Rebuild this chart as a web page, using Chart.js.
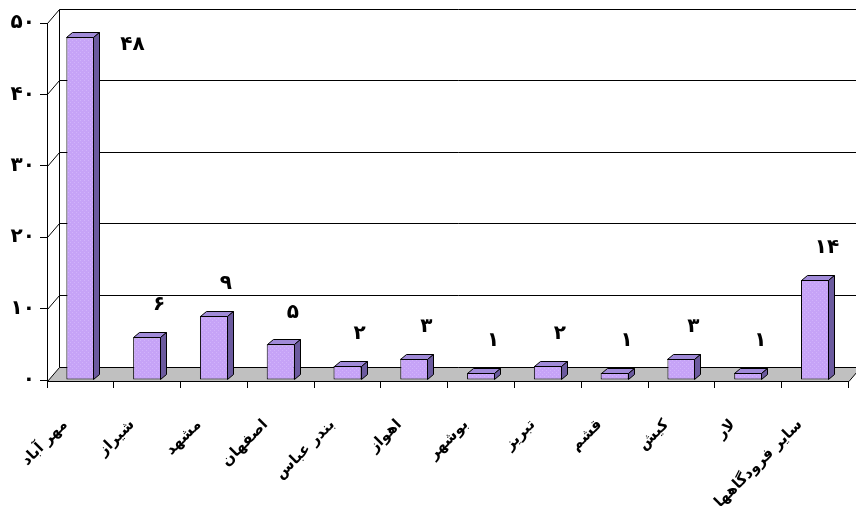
<!DOCTYPE html>
<html>
<head>
<meta charset="utf-8">
<script src="https://cdn.jsdelivr.net/npm/chart.js@4/dist/chart.umd.min.js"></script>
<style>
  html, body { margin: 0; padding: 0; background: #ffffff; }
  #wrap { width: 856px; height: 513px; position: relative; }
</style>
</head>
<body>
<div id="wrap"><canvas id="chart" width="856" height="513"></canvas></div>
<script>
// Airports and the count for each one
const airports = ['مهر آباد', 'شیراز', 'مشهد', 'اصفهان', 'بندر عباس', 'اهواز', 'بوشهر', 'تبریز', 'قشم', 'کیش', 'لار', 'سایر فرودگاهها'];
const counts = [48, 6, 9, 5, 2, 3, 1, 2, 1, 3, 1, 14];
const yTicks = [0, 10, 20, 30, 40, 50];

// Persian digits
const FA_DIGITS = '۰۱۲۳۴۵۶۷۸۹';
const fa = n => String(n).replace(/\d/g, d => FA_DIGITS[d]);

const FONT = '"DejaVu Sans", sans-serif';

// depth of the walls/floor and of each bar
const WALL_DX = 12, WALL_DY = 14;
const BAR_DX = 6, BAR_DY = 5;

// light lavender front face with a faint stipple
function frontPattern() {
  const p = document.createElement('canvas');
  p.width = 4; p.height = 4;
  const c = p.getContext('2d');
  c.fillStyle = '#c6a3f7';
  c.fillRect(0, 0, 4, 4);
  c.fillStyle = '#d1b3fb';
  c.fillRect(0, 0, 1, 1);
  c.fillRect(2, 2, 1, 1);
  return c.createPattern(p, 'repeat');
}

const box3d = {
  id: 'box3d',
  beforeDatasetsDraw(chart) {
    const { ctx, chartArea: { left, right, top, bottom }, scales: { y } } = chart;
    const W = chart.width;
    ctx.save();
    ctx.lineWidth = 1;
    ctx.strokeStyle = '#000';

    // floor
    const fy = bottom + 1.5;
    ctx.beginPath();
    ctx.moveTo(left + 0.5, fy);
    ctx.lineTo(right + 0.5, fy);
    ctx.lineTo(right + 0.5 + WALL_DX, fy - WALL_DY);
    ctx.lineTo(left + 0.5 + WALL_DX, fy - WALL_DY);
    ctx.closePath();
    ctx.fillStyle = '#c0c0c0';
    ctx.fill();
    ctx.stroke();

    // back wall edge
    const bx = Math.round(left + WALL_DX) + 0.5;
    ctx.beginPath();
    ctx.moveTo(bx, Math.round(top - WALL_DY) + 0.5);
    ctx.lineTo(bx, fy - WALL_DY);
    ctx.stroke();

    // gridlines: side wall diagonal then across the back wall
    yTicks.filter(v => v > 0).forEach(v => {
      const yy = Math.round(y.getPixelForValue(v)) + 0.5;
      ctx.beginPath();
      ctx.moveTo(left + 0.5, yy);
      ctx.lineTo(bx, yy - WALL_DY);
      ctx.lineTo(W + 2, yy - WALL_DY);
      ctx.stroke();
    });
    ctx.restore();
  },
  afterDatasetsDraw(chart) {
    const { ctx } = chart;
    const meta = chart.getDatasetMeta(0);
    const data = chart.data.datasets[0].data;
    ctx.save();
    ctx.lineWidth = 1;
    ctx.strokeStyle = '#000';
    meta.data.forEach((bar, i) => {
      const { x, y, width, base } = bar.getProps(['x', 'y', 'width', 'base'], true);
      const l = Math.round(x - width / 2) + 0.5;
      const r = Math.round(x + width / 2) - 0.5;
      const t = Math.round(y) + 0.5;
      const b = Math.round(base) - 0.5;

      // top face
      ctx.beginPath();
      ctx.moveTo(l, t);
      ctx.lineTo(l + BAR_DX, t - BAR_DY);
      ctx.lineTo(r + BAR_DX, t - BAR_DY);
      ctx.lineTo(r, t);
      ctx.closePath();
      ctx.fillStyle = '#a08ad8';
      ctx.fill();
      ctx.stroke();

      // side face
      ctx.beginPath();
      ctx.moveTo(r, t);
      ctx.lineTo(r + BAR_DX, t - BAR_DY);
      ctx.lineTo(r + BAR_DX, b - BAR_DY);
      ctx.lineTo(r, b);
      ctx.closePath();
      ctx.fillStyle = '#6b5a9e';
      ctx.fill();
      ctx.stroke();

      // value label
      ctx.fillStyle = '#000';
      ctx.font = 'bold 20px ' + FONT;
      ctx.textAlign = 'center';
      ctx.textBaseline = 'middle';
      let lx = x + 12, ly = y - 32;
      if (ly < chart.chartArea.top + 10) { lx = x + 52; ly = y + 8; }
      ctx.fillText(fa(data[i]), lx, ly);
    });
    ctx.restore();
  }
};

new Chart(document.getElementById('chart'), {
  type: 'bar',
  data: {
    labels: airports,
    datasets: [{
      data: counts,
      backgroundColor: frontPattern(),
      borderColor: '#000',
      borderWidth: 1,
      borderSkipped: false,
      barPercentage: 0.42,
      categoryPercentage: 1.0
    }]
  },
  options: {
    responsive: false,
    animation: false,
    devicePixelRatio: 1,
    layout: { padding: { top: 23, right: 6, left: 0, bottom: 0 } },
    plugins: { legend: { display: false }, tooltip: { enabled: false } },
    scales: {
      y: {
        min: 0,
        max: 50,
        afterFit(scale) { scale.width = 47; },
        afterBuildTicks(scale) { scale.ticks = yTicks.map(v => ({ value: v })); },
        grid: { drawOnChartArea: false, drawTicks: true, tickLength: 7, color: '#000' },
        border: { display: true, color: '#000', width: 1 },
        ticks: {
          padding: 5,
          color: '#000',
          font: { family: FONT, size: 20, weight: 'bold' },
          callback: v => fa(v)
        }
      },
      x: {
        afterFit(scale) { scale.height = 133; },
        grid: { drawOnChartArea: false, drawTicks: true, tickLength: 8, color: '#000', offset: true },
        border: { display: true, color: '#000', width: 1 },
        ticks: {
          minRotation: 45,
          maxRotation: 45,
          autoSkip: false,
          labelOffset: -15,
          padding: 28,
          color: '#000',
          font: { family: FONT, size: 15, weight: 'bold' }
        }
      }
    }
  },
  plugins: [box3d]
});
</script>
</body>
</html>
